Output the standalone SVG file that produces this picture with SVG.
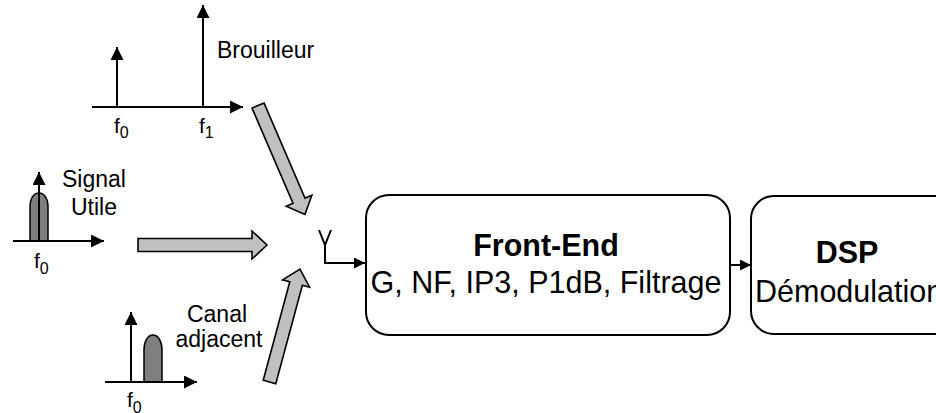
<svg xmlns="http://www.w3.org/2000/svg" width="936" height="413" viewBox="0 0 936 413">
<style>
  text { font-family: "Liberation Sans", Arial, sans-serif; fill: #000; }
  .lbl { font-size: 23px; }
  .f { font-size: 21px; }
  .sub { font-size: 16px; }
  .ln { stroke: #000; stroke-width: 2; fill: none; }
  .big { fill: #c0c0c0; stroke: #000; stroke-width: 1.6; stroke-linejoin: miter; }
  .bump { fill: #7f7f7f; stroke: #000; stroke-width: 1.5; }
  .box { fill: #fff; stroke: #000; stroke-width: 2; }
  .t1 { font-size: 30.5px; font-weight: bold; }
  .t2 { font-size: 30.5px; }
</style>
<defs>
  <marker id="ah" markerUnits="userSpaceOnUse" markerWidth="14" markerHeight="14" refX="13" refY="6.5" orient="auto">
    <path d="M0,0 L13,6.5 L0,13 Z" fill="#000"/>
  </marker>
  <marker id="ahs" markerUnits="userSpaceOnUse" markerWidth="12" markerHeight="12" refX="11" refY="5.5" orient="auto">
    <path d="M0,0 L11,5.5 L0,11 Z" fill="#000"/>
  </marker>
</defs>

<g id="spectre-brouilleur">
  <line class="ln" x1="92" y1="107" x2="243" y2="107" marker-end="url(#ah)"/>
  <line class="ln" x1="117" y1="107" x2="117" y2="47" marker-end="url(#ah)"/>
  <line class="ln" x1="203" y1="107" x2="203" y2="5" marker-end="url(#ah)"/>
  <text class="f" x="114" y="133">f<tspan class="sub" dy="5">0</tspan></text>
  <text class="f" x="199" y="133">f<tspan class="sub" dy="5">1</tspan></text>
  <text class="lbl" x="217" y="58">Brouilleur</text>
</g>

<g id="spectre-signal">
  <path class="bump" d="M30,241 V207 C30,198 34,193 39,193 C44,193 48,198 48,207 V241 Z"/>
  <line class="ln" x1="13" y1="241" x2="104" y2="241" marker-end="url(#ah)"/>
  <line class="ln" x1="39" y1="241" x2="39" y2="172" marker-end="url(#ah)"/>
  <text class="f" x="34" y="268">f<tspan class="sub" dy="6">0</tspan></text>
  <text class="lbl" x="94" y="187" text-anchor="middle">Signal</text>
  <text class="lbl" x="94" y="215" text-anchor="middle">Utile</text>
</g>

<g id="spectre-canal">
  <path class="bump" d="M144,382 V350 C144,341 148,335 153,335 C158,335 162,341 162,350 V382 Z"/>
  <line class="ln" x1="105" y1="382" x2="197" y2="382" marker-end="url(#ah)"/>
  <line class="ln" x1="131" y1="382" x2="131" y2="312" marker-end="url(#ah)"/>
  <text class="f" x="127" y="407">f<tspan class="sub" dy="6">0</tspan></text>
  <text class="lbl" x="217" y="322" text-anchor="middle">Canal</text>
  <text class="lbl" x="219" y="347" text-anchor="middle">adjacent</text>
</g>

<g id="fleches">
  <polygon class="big" transform="translate(258,105.5) rotate(66.7)" points="0,-6.5 103.7,-6.5 103.7,-14 118.7,0 103.7,14 103.7,6.5 0,6.5"/>
  <polygon class="big" transform="translate(138,245)" points="0,-6.5 114,-6.5 114,-14 129,0 114,14 114,6.5 0,6.5"/>
  <polygon class="big" transform="translate(269.5,382) rotate(-74.9)" points="0,-6.5 102,-6.5 102,-14 117,0 102,14 102,6.5 0,6.5"/>
</g>

<g id="antenne">
  <polyline class="ln" stroke-width="3" points="319,230 325,245 331,230"/>
  <polyline class="ln" points="325,243 325,263 365,263" marker-end="url(#ahs)"/>
</g>

<g id="front-end">
  <rect class="box" x="366" y="195" width="364" height="140" rx="23" ry="23"/>
  <text class="t1" x="546" y="256" text-anchor="middle">Front-End</text>
  <text class="t2" x="546" y="293" text-anchor="middle">G, NF, IP3, P1dB, Filtrage</text>
</g>

<g id="dsp">
  <rect class="box" x="751" y="196" width="210" height="138" rx="23" ry="23"/>
  <text class="t1" x="847" y="263" text-anchor="middle">DSP</text>
  <text class="t2" x="755" y="302">Démodulation</text>
</g>

<g id="connecteurs">
  <line class="ln" x1="730" y1="265" x2="751" y2="265" marker-end="url(#ahs)"/>
</g>
</svg>
